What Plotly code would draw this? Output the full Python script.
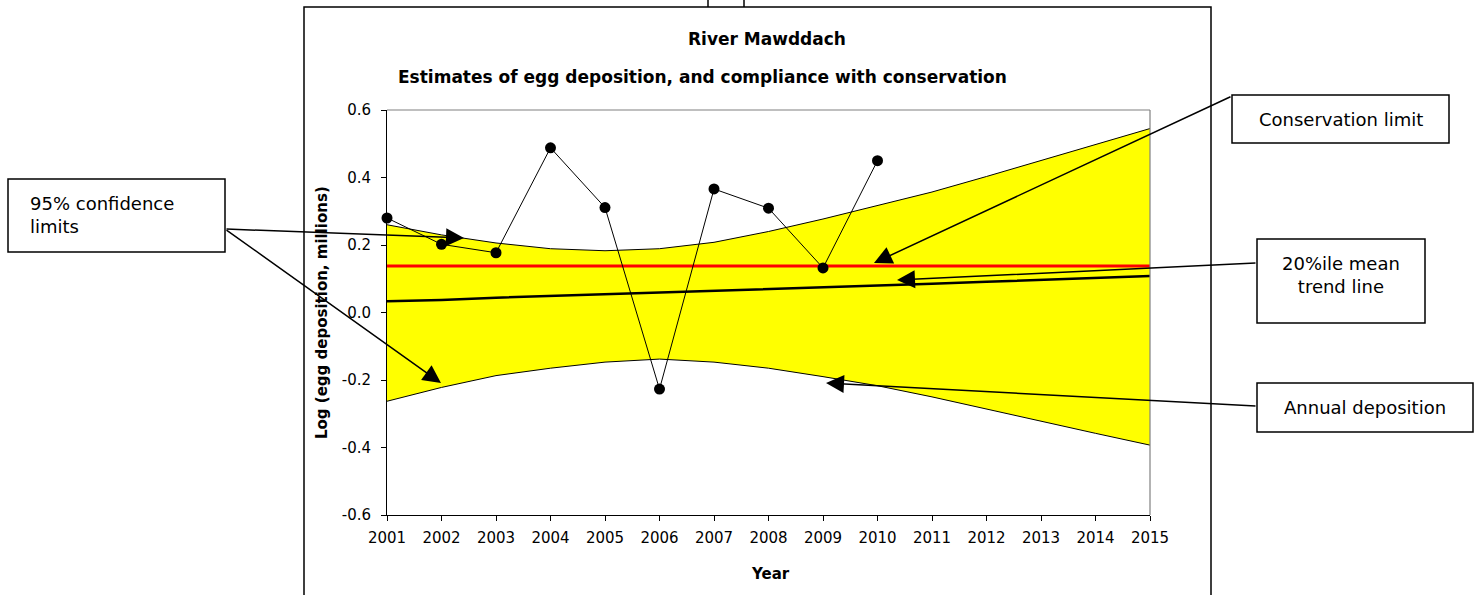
import plotly.graph_objects as go

# ---------------- data ----------------
years = [2001, 2002, 2003, 2004, 2005, 2006, 2007, 2008, 2009, 2010, 2011, 2012, 2013, 2014, 2015]
deposition_years = [2001, 2002, 2003, 2004, 2005, 2006, 2007, 2008, 2009, 2010]
deposition = [0.280, 0.202, 0.177, 0.488, 0.311, -0.227, 0.366, 0.309, 0.132, 0.450]
upper_ci = [0.260, 0.230, 0.206, 0.189, 0.183, 0.189, 0.208, 0.240, 0.277, 0.316, 0.357, 0.403, 0.450, 0.498, 0.545]
lower_ci = [-0.263, -0.222, -0.187, -0.165, -0.147, -0.138, -0.147, -0.165, -0.190, -0.217, -0.250, -0.287, -0.322, -0.358, -0.393]
trend = [0.033, 0.037, 0.044, 0.049, 0.053, 0.058, 0.064, 0.069, 0.075, 0.080, 0.085, 0.091, 0.096, 0.102, 0.108]
conservation_limit = [0.138] * len(years)
y_ticks = [-0.6, -0.4, -0.2, 0.0, 0.2, 0.4, 0.6]

# ---------------- layout geometry (pixels) ----------------
W, H = 1478, 595
PL, PR, PT, PB = 387, 1150, 110, 515
X0, X1 = 2001, 2015
Y0, Y1 = -0.6, 0.6


def xp(px):
    return (px - PL) / (PR - PL)


def yp(py):
    return (PB - py) / (PB - PT)


def xd(px):
    return X0 + (px - PL) / (PR - PL) * (X1 - X0)


def yd(py):
    return Y1 - (py - PT) / (PB - PT) * (Y1 - Y0)


FONT = "DejaVu Sans"

fig = go.Figure()

fig.add_trace(go.Scatter(x=years, y=upper_ci, mode="lines",
                         line=dict(color="black", width=1), hoverinfo="skip", showlegend=False))
fig.add_trace(go.Scatter(x=years, y=lower_ci, mode="lines", fill="tonexty",
                         fillcolor="#FFFF00",
                         line=dict(color="black", width=1), hoverinfo="skip", showlegend=False))
fig.add_trace(go.Scatter(x=years, y=conservation_limit, mode="lines",
                         line=dict(color="#FF0000", width=3), showlegend=False))
fig.add_trace(go.Scatter(x=years, y=trend, mode="lines",
                         line=dict(color="black", width=2.5), showlegend=False))
fig.add_trace(go.Scatter(x=deposition_years, y=deposition, mode="lines+markers",
                         line=dict(color="black", width=1),
                         marker=dict(color="black", size=11, symbol="circle"),
                         showlegend=False, cliponaxis=False))

shapes = []
# chart frame
shapes.append(dict(type="rect", xref="paper", yref="paper",
                   x0=xp(304), x1=xp(1211), y0=yp(640), y1=yp(7),
                   line=dict(color="black", width=1.5), fillcolor="rgba(0,0,0,0)", layer="below"))
# small marks at top
for mx in (708, 744):
    shapes.append(dict(type="line", xref="paper", yref="paper",
                       x0=xp(mx), x1=xp(mx), y0=yp(7), y1=yp(-2),
                       line=dict(color="black", width=1.5)))
# plot-area border (top and right, grey)
shapes.append(dict(type="line", xref="paper", yref="paper", x0=0, x1=1, y0=1, y1=1,
                   line=dict(color="#808080", width=1.2), layer="above"))
shapes.append(dict(type="line", xref="paper", yref="paper", x0=1, x1=1, y0=0, y1=1,
                   line=dict(color="#808080", width=1.2), layer="above"))

# label boxes
boxes = [
    (1232, 1449, 95, 143),   # Conservation limit
    (1257, 1425, 239, 323),  # 20%ile mean trend line
    (1257, 1473, 383, 432),  # Annual deposition
    (8, 225, 179, 252),      # 95% confidence limits
]
for bx0, bx1, by0, by1 in boxes:
    shapes.append(dict(type="rect", xref="paper", yref="paper",
                       x0=xp(bx0), x1=xp(bx1), y0=yp(by1), y1=yp(by0),
                       line=dict(color="black", width=1.5), fillcolor="white", layer="above"))

annotations = []
# titles
annotations.append(dict(text="<b>River Mawddach</b>", xref="paper", yref="paper",
                        x=xp(767), y=yp(39), xanchor="center", yanchor="middle",
                        showarrow=False, font=dict(family=FONT, size=17, color="black")))
annotations.append(dict(text="<b>Estimates of egg deposition, and compliance with conservation</b>",
                        xref="paper", yref="paper",
                        x=xp(702), y=yp(77), xanchor="center", yanchor="middle",
                        showarrow=False, font=dict(family=FONT, size=17, color="black")))
annotations.append(dict(text="<b>Log (egg deposition, millions)</b>", xref="paper", yref="paper",
                        x=xp(322), y=yp(313), xanchor="center", yanchor="middle", textangle=-90,
                        showarrow=False, font=dict(family=FONT, size=15, color="black")))
annotations.append(dict(text="<b>Year</b>", xref="paper", yref="paper",
                        x=xp(770), y=yp(574), xanchor="center", yanchor="middle",
                        showarrow=False, font=dict(family=FONT, size=15, color="black")))

# box texts
box_font = dict(family=FONT, size=18, color="black")
annotations.append(dict(text="Conservation limit", xref="paper", yref="paper",
                        x=xp(1341), y=yp(119), xanchor="center", yanchor="middle",
                        showarrow=False, font=box_font))
annotations.append(dict(text="20%ile mean<br>trend line", xref="paper", yref="paper",
                        x=xp(1341), y=yp(275), xanchor="center", yanchor="middle", align="center",
                        showarrow=False, font=box_font))
annotations.append(dict(text="Annual deposition", xref="paper", yref="paper",
                        x=xp(1365), y=yp(407), xanchor="center", yanchor="middle",
                        showarrow=False, font=box_font))
annotations.append(dict(text="95% confidence<br>limits", xref="paper", yref="paper",
                        x=xp(28), y=yp(215), xanchor="left", yanchor="middle", align="left",
                        showarrow=False, font=box_font))

# arrows: (tail px, tail py, tip px, tip py)
arrows = [
    (1232, 96, 874, 263),
    (1257, 263, 897, 280),
    (1257, 406, 826, 383),
    (225, 229, 464, 238),
    (225, 229, 441, 383),
]
for tx, ty, hx, hy in arrows:
    annotations.append(dict(text="", x=xd(hx), y=yd(hy), xref="x", yref="y",
                            ax=xd(tx), ay=yd(ty), axref="x", ayref="y",
                            showarrow=True, arrowhead=2, arrowsize=2.4, arrowwidth=1.5,
                            arrowcolor="black"))

fig.update_layout(
    width=W, height=H,
    margin=dict(l=PL, r=W - PR, t=PT, b=H - PB, pad=0),
    paper_bgcolor="white", plot_bgcolor="white",
    showlegend=False,
    shapes=shapes,
    annotations=annotations,
    font=dict(family=FONT, size=15, color="black"),
)
fig.update_xaxes(range=[X0, X1], tickmode="array", tickvals=years, ticktext=[str(y) for y in years],
                 showgrid=False, zeroline=False, showline=True, linecolor="black", linewidth=1,
                 ticks="outside", ticklen=5, tickcolor="black", tickfont=dict(family=FONT, size=15),
                 ticklabelstandoff=4, fixedrange=True)
fig.update_yaxes(range=[Y0, Y1], tickmode="array", tickvals=y_ticks,
                 ticktext=[f"{v:.1f}" for v in y_ticks],
                 showgrid=False, zeroline=False, showline=True, linecolor="black", linewidth=1,
                 ticks="outside", ticklen=5, tickcolor="black", tickfont=dict(family=FONT, size=15),
                 ticklabelstandoff=7, fixedrange=True)

fig.write_html("out.html", config={"displayModeBar": False},
               post_script="document.body.style.margin='0px';")
